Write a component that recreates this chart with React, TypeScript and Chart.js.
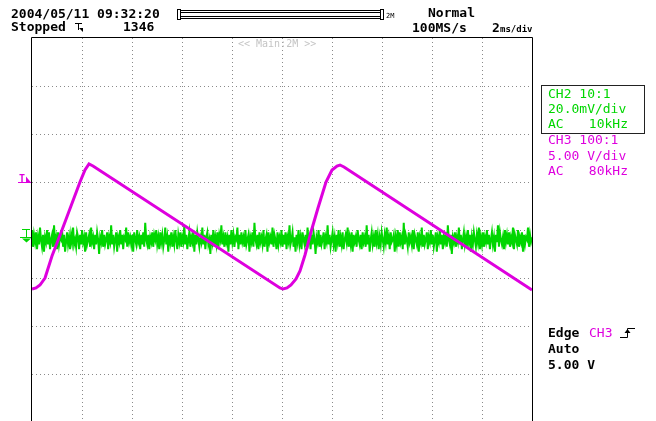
import { useEffect, useRef } from "react";
import { Chart, registerables } from "chart.js";

Chart.register(...registerables);

// ---- scope settings / labels ----
const headerDate = "2004/05/11 09:32:20";
const statusText = "Stopped";
const acqCount = "1346";
const triggerMode = "Normal";
const sampleRate = "100MS/s";
const timeBaseNum = "2";
const timeBaseUnit = "ms/div";
const recordLen = "2M";
const zoomLabel = "<< Main:2M >>";
const ch2Lines = ["CH2 10:1", "20.0mV/div", "AC", "10kHz"];
const ch3Lines = ["CH3 100:1", "5.00 V/div", "AC", "80kHz"];
const trigLines = ["Edge", "CH3", "Auto", "5.00 V"];

// ---- axes (time in ms, 2 ms/div; vertical in divisions) ----
const timeMin = -10;
const timeMax = 10;
const timeGrid = [-8, -6, -4, -2, 0, 2, 4, 6, 8];
const divTop = 4;
const divBottom = -3.979;
const divGrid = [-3, -2, -1, 0, 1, 2, 3];
const ch2mVPerDiv = 20;
const ch3VPerDiv = 5;

// ---- CH3 (magenta) trace: time [ms], volts [V] ----
const ch3Time = [
  -10.0, -9.84, -9.68, -9.48, -9.2, -8.8, -8.44, -8.08, -7.88, -7.72, -7.56,
  -0.08, 0.04, 0.2, 0.36, 0.56, 0.72, 0.92, 1.16, 1.44, 1.76, 2.0, 2.2, 2.32, 2.48,
  10.0,
];
const ch3Volts = [
  -6.15, -6.04, -5.73, -5.0, -2.71, 0.0, 2.5, 5.0, 6.25, 6.88, 6.67,
  -6.04, -6.15, -6.04, -5.73, -5.1, -4.27, -2.6, -0.21, 2.29, 5.0, 6.25, 6.67, 6.77, 6.56,
  -6.25,
];

// ---- CH2 (green) trace: noise samples [mV], evenly spaced over the screen ----
const ch2mV = [
  0, -7, -2, -5, -1, -8, -3, -6, 1, -4, -7, -2, -9, -3, -5, 0, -6, -1, -8, -4, -2, -7, 2, -5, -3,
  -8, -1, -6, -3, -4, 0, -7, -2, -9, -5, -1, -6, -3, -8, -2, -5, 1, -6, -4, -7, -1, -3, -8, -2, -6,
  0, -5, -3, -9, -1, -6, -4, -2, -7, 1, -5, -3, -8, -2, -6, -1, -4, -10, -3, -5, 0, -7, -2, -6, -4,
  -1, -8, -3, -5, 2, -6, -2, -7, -4, -1, -9, -3, -5, 0, -6, -2, -8, -3, -4, 1, -7, -1, -5, -3, -6,
  -2, -9, -1, -4, -6, 0, -5, -3, -8, -2, -6, -1, -7, 3, -4, -6, -2, -8, -3, -5, -1, -7, -2, -4, 0,
  -6, -3, -8, -1, -5, -2, -7, -4, 1, -6, -3, -9, -2, -5, -1, -7, -3, -6, 0, -4, -8, -2, -5, -1, -7,
  -3, -5, 2, -6, -2, -8, -4, -1, -7, -3, -5, 0, -9, -2, -6, -1, -4, -7, -3, -5, 1, -6, -2, -8, -3,
  -1, -6, -4, -10, -2, -5, 0, -7, -3, -6, -1, -8, -2, -4, 2, -6, -3, -7, -1, -5, -3, -9, -2, -6, 0,
  -5, -2, -7, -3, -4, 1, -8, -2, -6, -1, -5, -3, -7, 0, -6, -4, -2, -9, -3, -5, -1, -7, 3, -4, -6,
  -2, -8, -1, -5, -3, -6, 0, -7, -4, -2, -9, -1, -5, -3, -6, 1, -7, -2, -4, -8, -1, -6, -3, -5, 0,
  -7, -2, -6, -1, -8, -3, -5, 2, -6, -4, -1, -7, -3, -9, -2, -5, 0, -6, -3, -8, -1, -4, -6, -2, -7,
  1, -5, -3, -8, -2, -6, -1, -4, -10, -3, -5, 0, -7, -2, -6, -4, -1, -8, -3, -5, 2, -6, -2, -7, -4,
  -1, -6, -3, -9, -2, -5, 0, -7, -3, -6, -1, -8, -4, -2, -5, 1, -7, -3, -6, -1, -9, -2, -5, -3, -7,
  0, -4, -6, -2, -8, -1, -5, -3, -7, 2, -6, -2, -9, -4, -1, -6, -3, -7, 0, -5, -2, -8, -3, -6, -1,
  -4, -7, -2, -5, 1, -6, -3, -8, -1, -5, -4, -2, -9, -3, -6, 0, -7, -1, -5, -3, -8, 3, -6, -2, -4,
  -7, -1, -5, -3, -6, 0, -8, -2, -4, -6, -1, -9, -3, -5, 1, -7, -2, -6, -4, -1, -8, -3, -5, 0, -6,
  -2, -7, -4, -1, -9, -3, -5, 0, -6, -2, -8, -3, -5, -1, -7, 2, -4, -6, -2, -10, -3, -5, -1, -7, -3,
  -5, 1, -6, -2, -8, -4, -1, -6, -3, -7, 0, -5, -2, -9, -3, -6, -1, -4, -7, -2, -5, 1, -8, -3, -6,
  -1, -7, -3, -5, 0, -6, -2, -8, -4, -1, -6, -3, -9, -2, -5, 2, -7, -1, -4, -6, -3, -8, 0, -5, -2,
  -6, -1, -7, -3, -5, 1, -8, -2, -4, -6, 0, -7, -3, -5, -1, -9, -2, -6, -3, -4, 1, -7, -2, -5, -3,
];

const GREEN = "rgb(0,214,0)";
const MAGENTA = "rgb(222,0,222)";
const MONO = '"DejaVu Sans Mono", "Liberation Mono", monospace';

const overlayPlugin = {
  id: "scopeOverlay",
  afterDraw(chart: any) {
    const ctx: CanvasRenderingContext2D = chart.ctx;
    const { left, top, right } = chart.chartArea;
    const yScale = chart.scales.y;
    ctx.save();

    // frame
    ctx.strokeStyle = "#000";
    ctx.lineWidth = 1;
    ctx.beginPath();
    ctx.moveTo(left - 0.5, 421);
    ctx.lineTo(left - 0.5, top - 0.5);
    ctx.lineTo(right + 0.5, top - 0.5);
    ctx.lineTo(right + 0.5, 421);
    ctx.stroke();

    // header texts
    ctx.fillStyle = "#000";
    ctx.textBaseline = "alphabetic";
    ctx.textAlign = "left";
    ctx.font = `bold 13px ${MONO}`;
    ctx.fillText(headerDate, 11, 18);
    ctx.fillText(statusText, 11, 31);
    ctx.fillText(acqCount, 123, 31);
    ctx.fillText(triggerMode, 428, 17);
    ctx.fillText(sampleRate, 412, 32);
    ctx.fillText(timeBaseNum, 492, 32);
    ctx.font = `bold 9px ${MONO}`;
    ctx.fillText(timeBaseUnit, 500, 32);

    // trigger position marker near "Stopped"
    ctx.strokeStyle = "#000";
    ctx.beginPath();
    ctx.moveTo(75, 23.5); ctx.lineTo(82, 23.5);
    ctx.moveTo(78.5, 23.5); ctx.lineTo(78.5, 30);
    ctx.stroke();
    ctx.beginPath();
    ctx.moveTo(79, 28);
    ctx.lineTo(83, 28);
    ctx.lineTo(83, 32);
    ctx.closePath();
    ctx.fill();

    // record bar
    ctx.lineWidth = 1;
    ctx.strokeRect(177.5, 9.5, 3, 10);
    ctx.strokeRect(380.5, 9.5, 3, 10);
    ctx.beginPath();
    ctx.moveTo(181, 10.5); ctx.lineTo(380, 10.5);
    ctx.moveTo(181, 12.5); ctx.lineTo(380, 12.5);
    ctx.moveTo(181, 16.5); ctx.lineTo(380, 16.5);
    ctx.moveTo(181, 18.5); ctx.lineTo(380, 18.5);
    ctx.stroke();
    ctx.font = `7px ${MONO}`;
    ctx.fillText(recordLen, 386, 18);

    // zoom label
    ctx.fillStyle = "#c4c4c4";
    ctx.font = `10px ${MONO}`;
    ctx.fillText(zoomLabel, 238, 47);

    // CH2 box
    ctx.strokeStyle = "#222";
    ctx.strokeRect(541.5, 85.5, 103, 48);
    ctx.font = `13px ${MONO}`;
    ctx.fillStyle = GREEN;
    ctx.fillText(ch2Lines[0], 548, 98);
    ctx.fillText(ch2Lines[1], 548, 113);
    ctx.fillText(ch2Lines[2], 548, 128);
    ctx.textAlign = "right";
    ctx.fillText(ch2Lines[3], 628, 128);
    ctx.textAlign = "left";
    ctx.fillStyle = MAGENTA;
    ctx.fillText(ch3Lines[0], 548, 144);
    ctx.fillText(ch3Lines[1], 548, 160);
    ctx.fillText(ch3Lines[2], 548, 175);
    ctx.textAlign = "right";
    ctx.fillText(ch3Lines[3], 628, 175);
    ctx.textAlign = "left";

    // trigger info
    ctx.font = `bold 13px ${MONO}`;
    ctx.fillStyle = "#000";
    ctx.fillText(trigLines[0], 548, 337);
    ctx.fillText(trigLines[2], 548, 353);
    ctx.fillText(trigLines[3], 548, 369);
    ctx.font = `13px ${MONO}`;
    ctx.fillStyle = MAGENTA;
    ctx.fillText(trigLines[1], 589, 337);
    // rising edge symbol
    ctx.strokeStyle = "#000";
    ctx.lineWidth = 1;
    ctx.beginPath();
    ctx.moveTo(620, 337.5); ctx.lineTo(627.5, 337.5); ctx.lineTo(627.5, 328.5); ctx.lineTo(635, 328.5);
    ctx.stroke();
    ctx.fillStyle = "#000";
    ctx.beginPath();
    ctx.moveTo(624.5, 333); ctx.lineTo(627.5, 329); ctx.lineTo(630.5, 333);
    ctx.closePath();
    ctx.fill();

    // CH3 trigger level marker (left)
    const trigY = Math.round(yScale.getPixelForValue(5 / ch3VPerDiv)) + 0.5;
    ctx.fillStyle = MAGENTA;
    ctx.strokeStyle = MAGENTA;
    ctx.font = `bold 10px ${MONO}`;
    ctx.fillText("T", 19, trigY - 1);
    ctx.beginPath();
    ctx.moveTo(18, trigY); ctx.lineTo(31, trigY);
    ctx.stroke();
    ctx.beginPath();
    ctx.moveTo(26, trigY - 6); ctx.lineTo(31, trigY); ctx.lineTo(26, trigY);
    ctx.closePath();
    ctx.fill();

    // CH2 ground marker (left)
    const gY = Math.round(yScale.getPixelForValue(-3.3 / ch2mVPerDiv)) - 0.5;
    ctx.strokeStyle = GREEN;
    ctx.fillStyle = GREEN;
    ctx.beginPath();
    ctx.moveTo(22, gY - 8); ctx.lineTo(30, gY - 8);
    ctx.moveTo(26.5, gY - 8); ctx.lineTo(26.5, gY);
    ctx.moveTo(20, gY); ctx.lineTo(31, gY);
    ctx.stroke();
    ctx.beginPath();
    ctx.moveTo(22, gY + 1); ctx.lineTo(31, gY + 1); ctx.lineTo(26.5, gY + 5);
    ctx.closePath();
    ctx.fill();

    ctx.restore();
  },
};

export default function App() {
  const canvasRef = useRef<HTMLCanvasElement | null>(null);

  useEffect(() => {
    const canvas = canvasRef.current;
    if (!canvas) return;
    const ch3Data = ch3Time.map((t, i) => ({ x: t, y: ch3Volts[i] / ch3VPerDiv }));
    const ch2Data = ch2mV.map((v, i) => ({
      x: timeMin + ((timeMax - timeMin) * i) / (ch2mV.length - 1),
      y: v / ch2mVPerDiv,
    }));

    const chart = new Chart(canvas, {
      type: "scatter",
      data: {
        datasets: [
          {
            label: "CH3",
            data: ch3Data,
            showLine: true,
            borderColor: MAGENTA,
            borderWidth: 3,
            pointRadius: 0,
            tension: 0,
            order: 0,
          },
          {
            label: "CH2",
            data: ch2Data,
            showLine: true,
            borderColor: GREEN,
            borderWidth: 2,
            pointRadius: 0,
            tension: 0,
            order: 1,
          },
        ],
      },
      options: {
        responsive: false,
        animation: false,
        devicePixelRatio: 1,
        layout: { padding: { left: 32, right: 124, top: 38, bottom: 0 } },
        plugins: { legend: { display: false }, tooltip: { enabled: false } },
        scales: {
          x: {
            type: "linear",
            min: timeMin,
            max: timeMax,
            ticks: { display: false },
            afterBuildTicks: (s: any) => {
              s.ticks = timeGrid.map((v) => ({ value: v }));
            },
            grid: { color: "#8a8a8a", lineWidth: 1, drawTicks: false },
            border: { display: false, dash: [1, 3] },
          },
          y: {
            type: "linear",
            min: divBottom,
            max: divTop,
            ticks: { display: false },
            afterBuildTicks: (s: any) => {
              s.ticks = divGrid.map((v) => ({ value: v }));
            },
            grid: { color: "#8a8a8a", lineWidth: 1, drawTicks: false },
            border: { display: false, dash: [1, 3] },
          },
        },
      },
      plugins: [overlayPlugin],
    });
    return () => chart.destroy();
  }, []);

  return (
    <div style={{ position: "fixed", left: 0, top: 0, width: 656, height: 421, background: "#fff", overflow: "hidden" }}>
      <canvas ref={canvasRef} width={656} height={421} style={{ display: "block" }} />
    </div>
  );
}
